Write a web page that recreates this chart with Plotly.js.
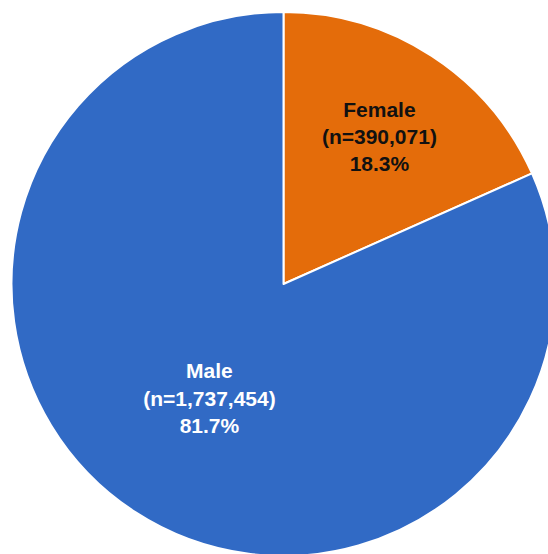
<!DOCTYPE html>
<html>
<head>
<meta charset="utf-8">
<script src="https://cdn.plot.ly/plotly-3.0.1.min.js"></script>
<style>
html,body{margin:0;padding:0;overflow:hidden;background:#fff;width:548px;height:554px;}
#chart{width:580px;height:580px;}
</style>
</head>
<body>
<div id="chart"></div>
<script>
const categories = ["Female", "Male"];
const counts = [390071, 1737454];
const sliceColors = ["#E46C0A", "#316AC5"];
const labelColors = ["#111111", "#FFFFFF"];

const W = 580, H = 580;
const cx = 283.5, cy = 284, r = 272;

const trace = {
  type: "pie",
  labels: categories,
  values: counts,
  sort: false,
  direction: "clockwise",
  rotation: 0,
  marker: {colors: sliceColors, line: {color: "#FFFFFF", width: 2}},
  texttemplate: "<b>%{label}</b><br><b>(n=%{value:,})</b><br><b>%{percent:.1%}</b>",
  textposition: "inside",
  insidetextorientation: "horizontal",
  insidetextfont: {family: "Liberation Sans, Arial, sans-serif", size: 21, color: labelColors},
  hoverinfo: "label+value+percent",
  showlegend: false,
  domain: {x: [(cx - r) / W, (cx + r) / W], y: [(H - cy - r) / H, (H - cy + r) / H]}
};

Plotly.newPlot("chart", [trace], {
  width: W, height: H,
  margin: {l: 0, r: 0, t: 0, b: 0},
  paper_bgcolor: "#FFFFFF",
  showlegend: false
}, {displayModeBar: false, staticPlot: true});
</script>
</body>
</html>
